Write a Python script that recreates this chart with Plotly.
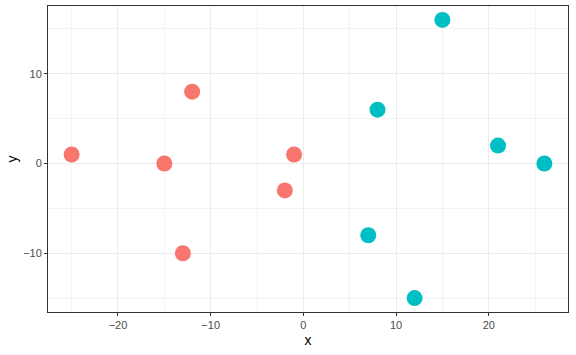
import plotly.graph_objects as go

red_x = [-25, -15, -12, -13, -2, -1]
red_y = [1, 0, 8, -10, -3, 1]
teal_x = [8, 15, 7, 12, 21, 26]
teal_y = [6, 16, -8, -15, 2, 0]

fig = go.Figure()
fig.add_trace(go.Scatter(x=red_x, y=red_y, mode="markers",
                         marker=dict(size=16, color="#F8766D", line=dict(width=0)), showlegend=False))
fig.add_trace(go.Scatter(x=teal_x, y=teal_y, mode="markers",
                         marker=dict(size=16, color="#00BFC4", line=dict(width=0)), showlegend=False))

axis_common = dict(
    showgrid=True, gridcolor="#EBEBEB", gridwidth=1.1,
    zeroline=False, showline=True, linecolor="#333333", linewidth=1, mirror=True,
    ticks="outside", ticklen=3, tickcolor="#333333", tickwidth=1,
    tickfont=dict(family="Liberation Sans, Arial", size=11, color="#4D4D4D"),
    title_font=dict(family="Liberation Sans, Arial", size=14, color="black"),
    minor=dict(showgrid=True, gridcolor="#F3F3F3", gridwidth=0.6),
)

fig.update_xaxes(range=[-27.55, 28.55], tickvals=[-20, -10, 0, 10, 20], title_text="x",
                 title_standoff=4, minor_tickvals=[-25, -15, -5, 5, 15, 25], **axis_common)
fig.update_yaxes(range=[-16.55, 17.55], tickvals=[-10, 0, 10], title_text="y",
                 title_standoff=2, minor_tickvals=[-15, -5, 5, 15], **axis_common)

fig.update_layout(width=576, height=355, margin=dict(l=48, r=8, t=6, b=43),
                  plot_bgcolor="white", paper_bgcolor="white")
fig.write_html("out.html")
